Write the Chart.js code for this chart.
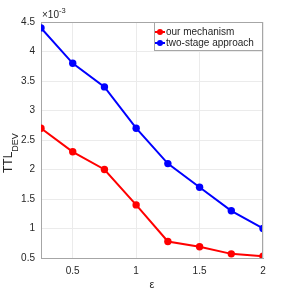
<!DOCTYPE html>
<html>
<head>
<meta charset="utf-8">
<script src="https://cdn.jsdelivr.net/npm/chart.js@4/dist/chart.umd.min.js"></script>
<style>
html,body{margin:0;padding:0;background:#fff;}
#wrap{width:291px;height:291px;}
</style>
</head>
<body>
<div id="wrap"><canvas id="c" width="291" height="291"></canvas></div>
<script>
// epsilon values
const epsilon = [0.25, 0.5, 0.75, 1, 1.25, 1.5, 1.75, 2];
// TTL_DEV values in units of 1e-3
const ourMechanism = [2.7, 2.3, 2.0, 1.4, 0.78, 0.69, 0.57, 0.53];
const twoStage = [4.4, 3.8, 3.4, 2.7, 2.1, 1.7, 1.3, 1.0];
const seriesNames = ['our mechanism', 'two-stage approach'];
const xTicks = [0.5, 1, 1.5, 2];
const yTicks = [0.5, 1, 1.5, 2, 2.5, 3, 3.5, 4, 4.5];

const FONT = 'Liberation Sans, Arial, Helvetica, sans-serif';
const TXT = '#262626';
const AXC = '#a6a6a6';
const GRID = '#ebebeb';

const toPts = arr => arr.map((v, i) => ({x: epsilon[i], y: v}));

const deco = {
  id: 'deco',
  afterDatasetsDraw(chart) {
    const ctx = chart.ctx, a = chart.chartArea;
    ctx.save();
    // box top/right
    ctx.strokeStyle = AXC; ctx.lineWidth = 1;
    ctx.beginPath();
    ctx.moveTo(a.left, a.top + 0.5); ctx.lineTo(a.right - 0.5, a.top + 0.5); ctx.lineTo(a.right - 0.5, a.bottom);
    ctx.stroke();
    // legend
    const lx = 154, ly = 22, lw = 109, lh = 29;
    ctx.fillStyle = '#fff';
    ctx.fillRect(lx, ly, lw, lh);
    ctx.strokeStyle = AXC;
    ctx.strokeRect(lx + 0.5, ly + 0.5, lw - 1, lh - 1);
    const cols = ['#ff0000', '#0000ff'];
    seriesNames.forEach((n, i) => {
      const y = 32 + i * 11;
      ctx.strokeStyle = cols[i]; ctx.lineWidth = 2;
      ctx.beginPath(); ctx.moveTo(155, y); ctx.lineTo(165, y); ctx.stroke();
      ctx.fillStyle = cols[i];
      ctx.beginPath(); ctx.arc(160, y, 3, 0, Math.PI * 2); ctx.fill();
      ctx.fillStyle = TXT; ctx.font = '10px ' + FONT;
      ctx.textAlign = 'left'; ctx.textBaseline = 'middle';
      ctx.fillText(n, 166, y + 0.5);
    });
    // exponent
    ctx.fillStyle = TXT; ctx.textBaseline = 'alphabetic'; ctx.textAlign = 'left';
    ctx.font = '10px ' + FONT;
    ctx.fillText('\u00d710', 42, 18);
    const w = ctx.measureText('\u00d710').width;
    ctx.font = '7.5px ' + FONT;
    ctx.fillText('-3', 42 + w, 13);
    // y title
    ctx.save();
    ctx.translate(12, 173);
    ctx.rotate(-Math.PI / 2);
    ctx.font = '12px ' + FONT;
    ctx.fillText('TTL', 0, 0);
    const tw = ctx.measureText('TTL').width;
    ctx.font = '9px ' + FONT;
    ctx.fillText('DEV', tw, 5.5);
    ctx.restore();
    // x title
    ctx.font = '11px ' + FONT; ctx.textAlign = 'center'; ctx.textBaseline = 'middle';
    ctx.fillText('\u03b5', 152, 285);
    ctx.restore();
  }
};

new Chart(document.getElementById('c'), {
  type: 'line',
  data: {
    datasets: [
      {label: seriesNames[0], data: toPts(ourMechanism), borderColor: '#ff0000', backgroundColor: '#ff0000', borderWidth: 2, pointRadius: 3.7, pointBorderWidth: 0, tension: 0},
      {label: seriesNames[1], data: toPts(twoStage), borderColor: '#0000ff', backgroundColor: '#0000ff', borderWidth: 2, pointRadius: 3.7, pointBorderWidth: 0, tension: 0}
    ]
  },
  options: {
    responsive: false,
    animation: false,
    devicePixelRatio: 1,
    layout: {padding: {left: 0, top: 22, right: 28, bottom: 0}},
    plugins: {legend: {display: false}, tooltip: {enabled: false}},
    scales: {
      x: {
        type: 'linear', min: 0.25, max: 2,
        afterBuildTicks: s => { s.ticks = xTicks.map(v => ({value: v})); },
        afterFit: s => { s.height = 33; },
        grid: {color: GRID, drawTicks: false},
        border: {color: AXC},
        ticks: {color: TXT, font: {family: FONT, size: 10}, padding: 7, maxRotation: 0, callback: v => String(v)}
      },
      y: {
        type: 'linear', min: 0.5, max: 4.5,
        afterBuildTicks: s => { s.ticks = yTicks.map(v => ({value: v})); },
        afterFit: s => { s.width = 41; },
        grid: {color: GRID, drawTicks: false},
        border: {color: AXC},
        ticks: {color: TXT, font: {family: FONT, size: 10}, padding: 6, callback: v => String(v)}
      }
    }
  },
  plugins: [deco]
});
</script>
</body>
</html>
